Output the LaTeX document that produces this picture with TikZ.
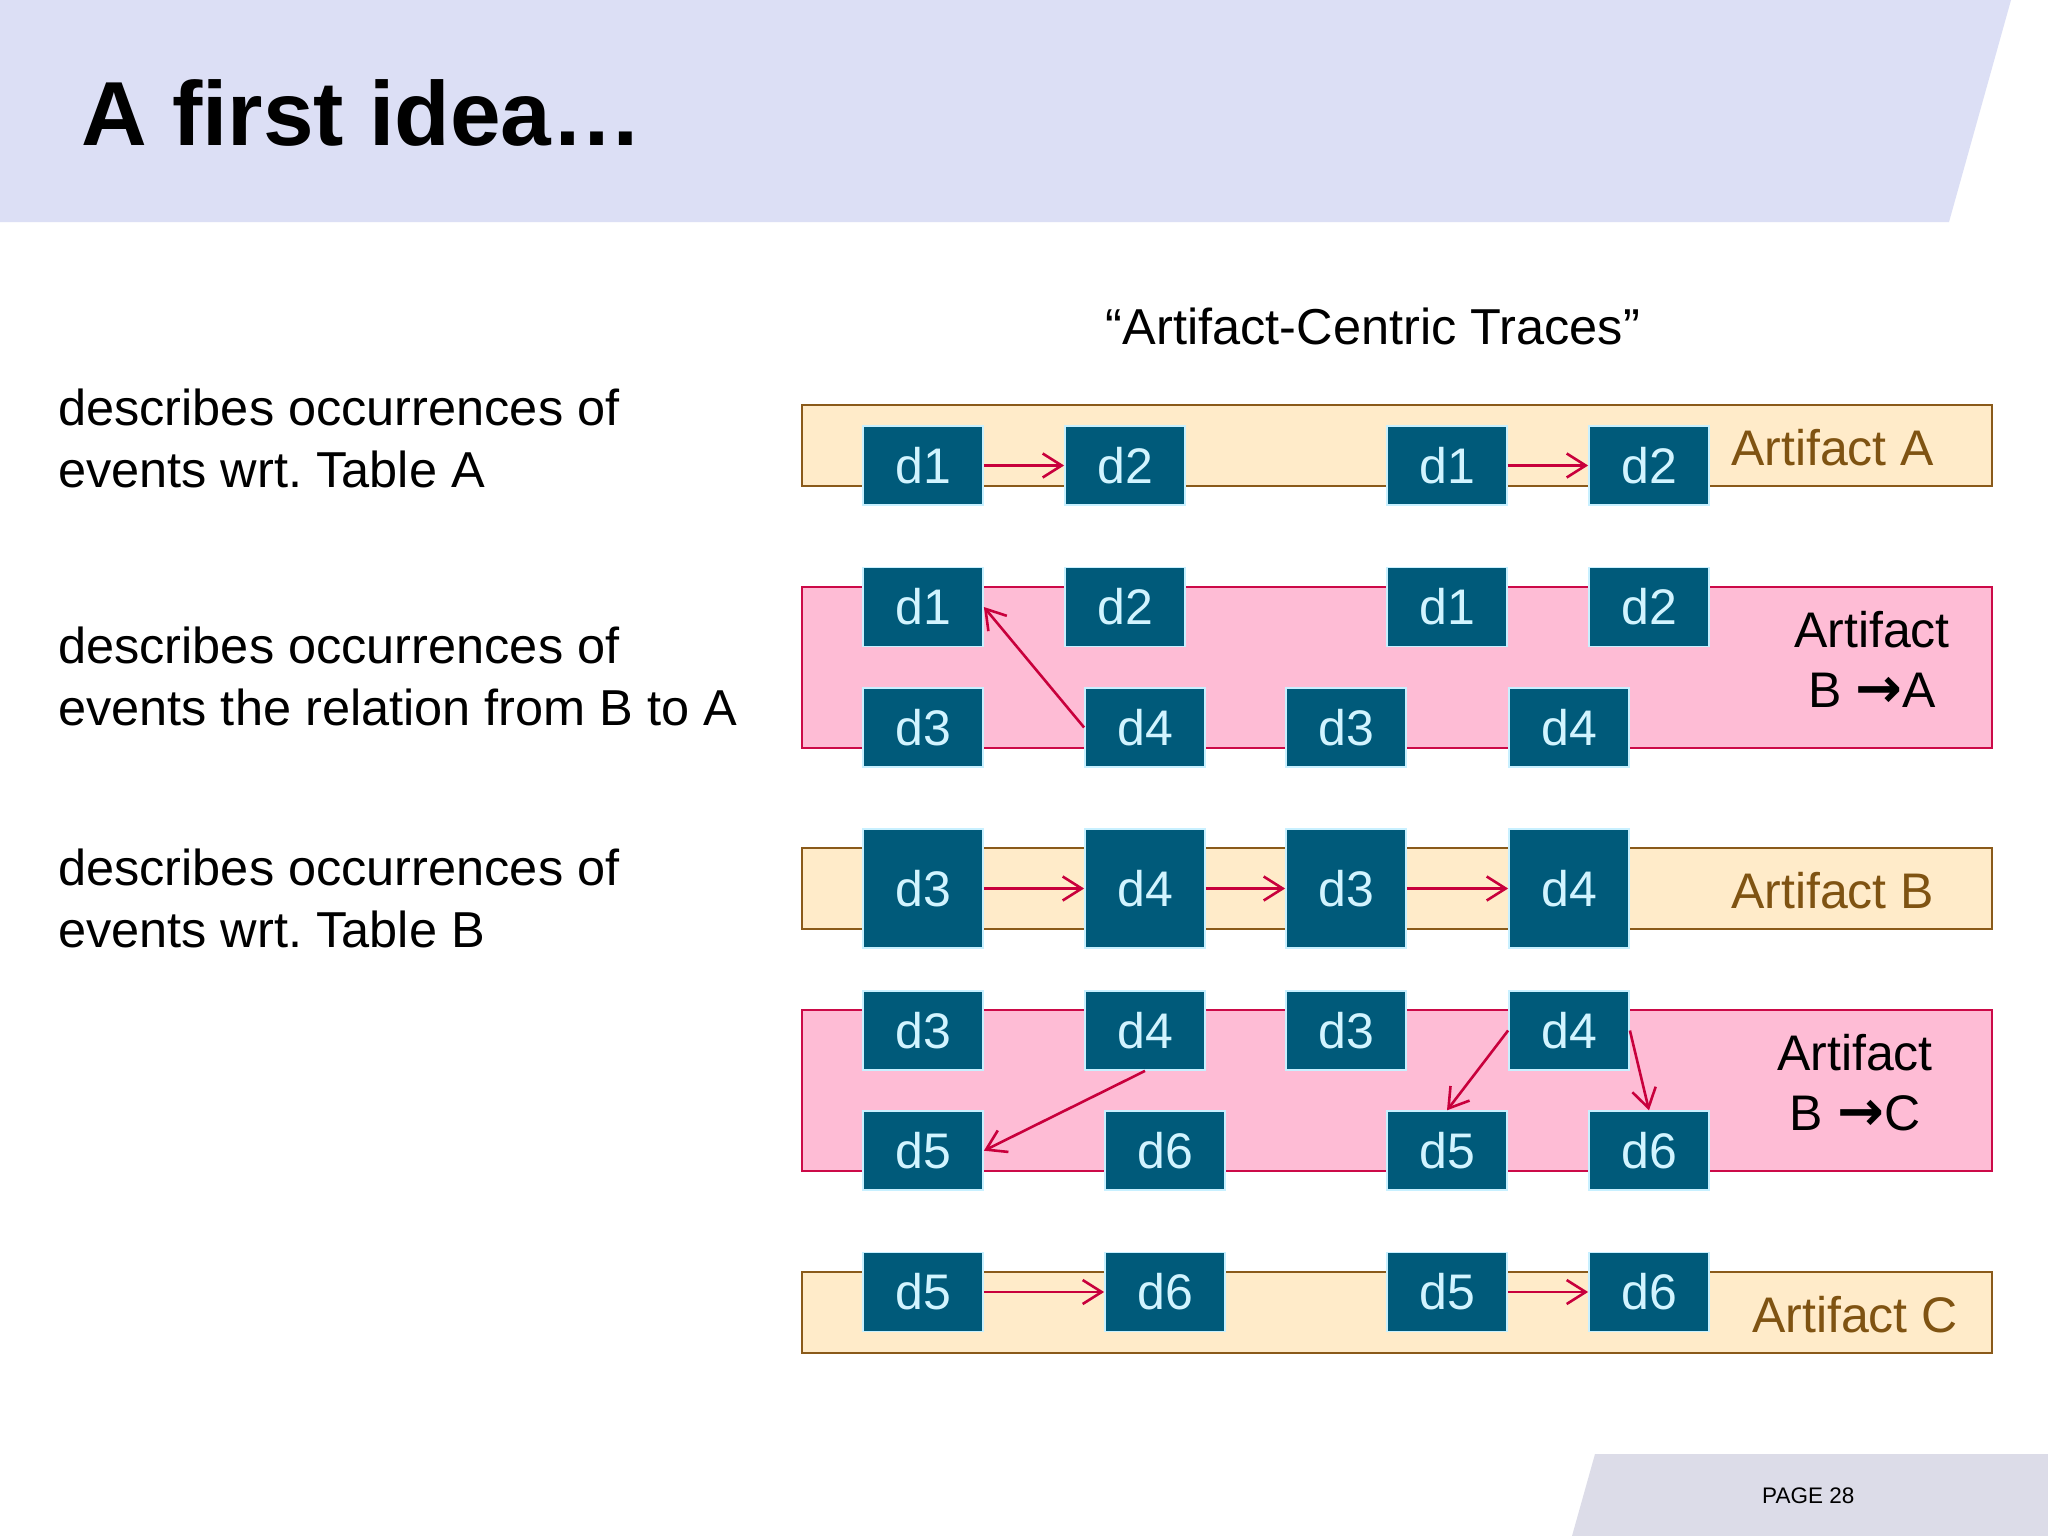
\documentclass[tikz,border=0pt]{standalone}
\usepackage{fontspec}
\setmainfont{Liberation Sans}
\newfontfamily\arrfont{DejaVu Sans}
\usetikzlibrary{arrows.meta}
\frenchspacing
\definecolor{hdr}{HTML}{DCDFF5}
\definecolor{ftr}{HTML}{DCDCE8}
\definecolor{creamfill}{HTML}{FFEBC9}
\definecolor{creamline}{HTML}{8A5A1A}
\definecolor{pinkfill}{HTML}{FEBCD5}
\definecolor{pinkline}{HTML}{CC0A48}
\definecolor{boxfill}{HTML}{005A7A}
\definecolor{boxline}{HTML}{C8F0FF}
\definecolor{boxtext}{HTML}{D2F4FF}
\definecolor{arrcol}{HTML}{C8003C}
\definecolor{lblbrown}{HTML}{7F5312}
\newcommand{\bigarr}{{\arrfont\bfseries\fontsize{56}{60}\selectfont →}}
\begin{document}
\begin{tikzpicture}[x=1pt,y=-1pt,
  dbox/.style={draw=boxline, line width=1.8pt, fill=boxfill, text=boxtext,
    minimum width=120pt, minimum height=79pt, inner sep=0pt,
    font=\fontsize{50}{60}\selectfont},
  tallbox/.style={dbox, minimum height=119pt},
  creamband/.style={draw=creamline, fill=creamfill, line width=2.2pt},
  pinkband/.style={draw=pinkline, fill=pinkfill, line width=2.2pt},
  flow/.style={draw=arrcol, line width=2.6pt, -{Straight Barb[length=19pt,width=24pt,line width=2.6pt]}},
  bodytxt/.style={anchor=base west, inner sep=0pt, font=\fontsize{50.5}{60}\selectfont},
  lbl/.style={inner sep=0pt, font=\fontsize{50}{60}\selectfont},
]
\useasboundingbox (0,0) rectangle (2048,1536);
\fill[white] (0,0) rectangle (2048,1536);

% header and footer
\fill[hdr] (0,0) -- (2011,0) -- (1949,222) -- (0,222) -- cycle;
\node[anchor=base west, inner sep=0pt, font=\fontsize{91}{100}\selectfont\bfseries] (title) at (81,146) {A first idea…};
\fill[ftr] (1595,1454) -- (2048,1454) -- (2048,1536) -- (1572,1536) -- cycle;
\node[anchor=base west, inner sep=0pt, font=\fontsize{22.5}{26}\selectfont] (page) at (1762,1503) {PAGE 28};

% left texts
\node[bodytxt] (t1a) at (58,425) {describes occurrences of};
\node[bodytxt] (t1b) at (58,487) {events wrt. Table A};
\node[bodytxt] (t2a) at (58,663) {describes occurrences of};
\node[bodytxt] (t2b) at (58,725) {events the relation from B to A};
\node[bodytxt] (t3a) at (58,885) {describes occurrences of};
\node[bodytxt] (t3b) at (58,947) {events wrt. Table B};

% subtitle
\node[anchor=base, inner sep=0pt, font=\fontsize{50.5}{60}\selectfont] (sub) at (1373,344) {“Artifact-Centric Traces”};

% bands
\draw[creamband] (802,405) rectangle (1992,486);
\draw[pinkband] (802,587) rectangle (1992,748);
\draw[creamband] (802,848) rectangle (1992,929);
\draw[pinkband] (802,1010) rectangle (1992,1171);
\draw[creamband] (802,1272) rectangle (1992,1353);

% band labels
\node[lbl, anchor=base west, text=lblbrown] (labA) at (1731,465) {Artifact A};
\node[lbl, anchor=base] (labBA1) at (1872,647) {Artifact};
\node[lbl, anchor=base] (labBA2) at (1872,707) {B \bigarr A};
\node[lbl, anchor=base west, text=lblbrown] (labB) at (1731,908) {Artifact B};
\node[lbl, anchor=base] (labBC1) at (1855,1070) {Artifact};
\node[lbl, anchor=base] (labBC2) at (1855,1130) {B \bigarr C};
\node[lbl, anchor=base west, text=lblbrown] (labC) at (1752,1332) {Artifact C};

% row A
\node[dbox] (a1) at (923,465.5) {d1};
\node[dbox] (a2) at (1125,465.5) {d2};
\node[dbox] (a3) at (1447,465.5) {d1};
\node[dbox] (a4) at (1649,465.5) {d2};
% row B->A
\node[dbox] (ba1) at (923,607) {d1};
\node[dbox] (ba2) at (1125,607) {d2};
\node[dbox] (ba3) at (1447,607) {d1};
\node[dbox] (ba4) at (1649,607) {d2};
\node[dbox] (ba5) at (923,727.5) {d3};
\node[dbox] (ba6) at (1145,727.5) {d4};
\node[dbox] (ba7) at (1346,727.5) {d3};
\node[dbox] (ba8) at (1569,727.5) {d4};
% row B
\node[tallbox] (b1) at (923,888.5) {d3};
\node[tallbox] (b2) at (1145,888.5) {d4};
\node[tallbox] (b3) at (1346,888.5) {d3};
\node[tallbox] (b4) at (1569,888.5) {d4};
% row B->C
\node[dbox] (bc1) at (923,1030.5) {d3};
\node[dbox] (bc2) at (1145,1030.5) {d4};
\node[dbox] (bc3) at (1346,1030.5) {d3};
\node[dbox] (bc4) at (1569,1030.5) {d4};
\node[dbox] (bc5) at (923,1150.7) {d5};
\node[dbox] (bc6) at (1165,1150.7) {d6};
\node[dbox] (bc7) at (1447,1150.7) {d5};
\node[dbox] (bc8) at (1649,1150.7) {d6};
% row C
\node[dbox] (c1) at (923,1292) {d5};
\node[dbox] (c2) at (1165,1292) {d6};
\node[dbox] (c3) at (1447,1292) {d5};
\node[dbox] (c4) at (1649,1292) {d6};

% connectors
\draw[flow] (a1.east) -- (a2.west);
\draw[flow] (a3.east) -- (a4.west);
\draw[flow] (ba6.west) -- (ba1.east);
\draw[flow] (b1.east) -- (b2.west);
\draw[flow] (b2.east) -- (b3.west);
\draw[flow] (b3.east) -- (b4.west);
\draw[flow] (bc2.south) -- (bc5.east);
\draw[flow] (bc4.west) -- (bc7.north);
\draw[flow] (bc4.east) -- (bc8.north);
\draw[flow] (c1.east) -- (c2.west);
\draw[flow] (c3.east) -- (c4.west);
\end{tikzpicture}
\end{document}
